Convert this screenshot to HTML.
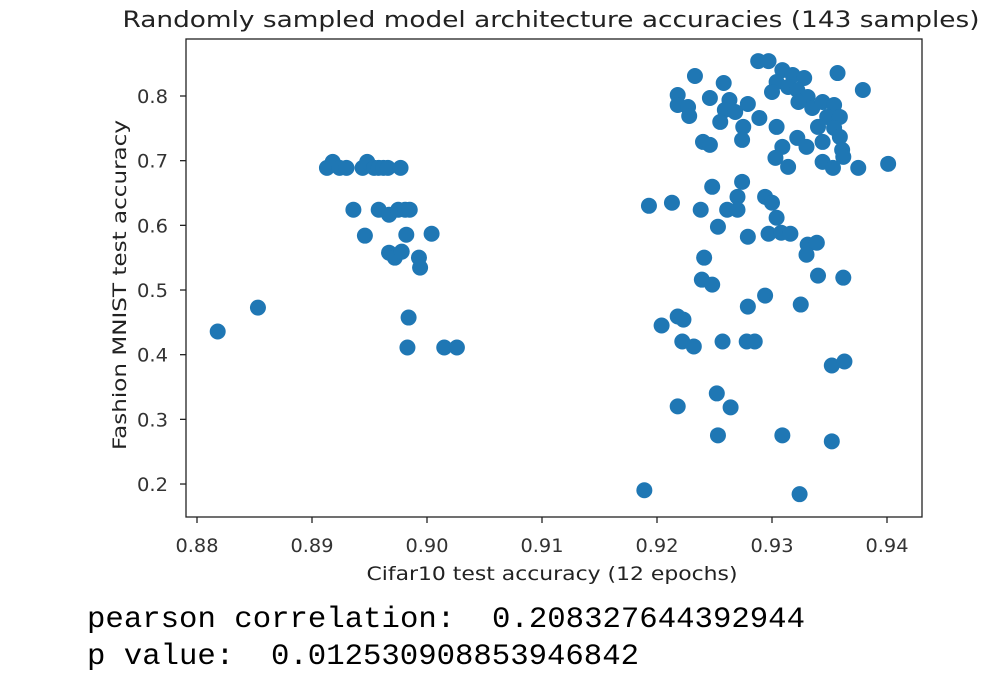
<!DOCTYPE html>
<html><head><meta charset="utf-8"><style>
body{margin:0;background:#fff;width:984px;height:684px;overflow:hidden}
</style></head><body>
<svg id="chart" width="984" height="684" style="position:absolute;left:0;top:0" font-family="'DejaVu Sans','Liberation Sans',sans-serif"></svg>
<script>
const xs=[.8818,.8853,.8913,.8918,.8924,.8930,.8944,.8948,.8954,.8958,.8962,.8966,.8977,.8936,.8958,.8967,.8975,.8981,.8985,.8946,.8982,.9004,.8967,.8972,.8978,.8993,.8994,.8984,.8983,.9015,.9026,
.9288,.9297,.9233,.9357,.9258,.9309,.9318,.9328,.9304,.9300,.9314,.9322,.9218,.9379,.9246,.9218,.9227,.9263,.9279,.9259,.9268,.9228,.9331,.9335,.9344,.9354,.9348,.9359,.9323,.9255,.9275,.9289,.9304,.9340,.9354,.9359,.9240,.9246,.9274,.9309,.9322,.9330,.9344,.9361,.9362,.9303,.9314,.9344,.9353,.9375,.9401,.9248,.9274,
.9193,.9213,.9238,.9270,.9261,.9270,.9294,.9300,.9304,.9253,.9279,.9297,.9308,.9316,.9331,.9339,.9330,.9241,.9239,.9248,.9340,.9362,.9294,.9279,.9325,.9218,.9223,.9204,.9222,.9232,.9257,.9278,.9285,.9352,.9363,.9218,.9264,.9252,.9253,.9309,.9352,.9189,.9324];
const ys=[.4358,.4728,.6889,.6981,.6889,.6889,.6889,.6981,.6889,.6889,.6889,.6889,.6889,.6241,.6241,.6164,.6241,.6241,.6241,.5840,.5855,.5870,.5577,.5500,.5593,.5500,.5346,.4574,.4111,.4111,.4111,
.8540,.8540,.8309,.8355,.8201,.8401,.8324,.8278,.8216,.8062,.8139,.8093,.8015,.8093,.7969,.7861,.7830,.7938,.7877,.7784,.7753,.7691,.7985,.7815,.7907,.7861,.7676,.7676,.7907,.7599,.7522,.7660,.7522,.7522,.7506,.7367,.7290,.7244,.7321,.7213,.7352,.7213,.7290,.7167,.7059,.7043,.6904,.6981,.6889,.6889,.6951,.6596,.6673,
.6302,.6349,.6241,.6441,.6241,.6241,.6441,.6349,.6117,.5978,.5824,.5870,.5886,.5870,.5701,.5731,.5546,.5500,.5160,.5083,.5222,.5191,.4914,.4744,.4775,.4590,.4543,.4451,.4204,.4127,.4204,.4204,.4204,.3833,.3895,.3201,.3185,.3401,.2753,.2753,.2660,.1904,.1843];
const xTicks=[0.88,0.89,0.90,0.91,0.92,0.93,0.94];
const yTicks=[0.2,0.3,0.4,0.5,0.6,0.7,0.8];
const L=186,R=922,T=39,B=517;
const sx=v=>197+(v-0.88)*11500;
const sy=v=>96-(v-0.8)*646.7;
const svg=document.getElementById('chart');
const NS='http://www.w3.org/2000/svg';
function mk(tag,attrs,parent){const e=document.createElementNS(NS,tag);for(const k in attrs)e.setAttribute(k,attrs[k]);(parent||svg).appendChild(e);return e;}
const pts=mk('g',{});


for(let i=0;i<xs.length;i++){
  const c=mk('circle',{cx:sx(xs[i]),cy:sy(ys[i]),r:8,fill:'#1f77b4'},pts);
  
  
}
const frame=mk('rect',{x:L,y:T,width:R-L,height:B-T,fill:'none',stroke:'#222','stroke-width':1.3});


xTicks.forEach(t=>{
  const x=sx(t);
  const tk=mk('line',{x1:x,x2:x,y1:B,y2:B+6,stroke:'#222','stroke-width':1.3});
  
  
  const tx=mk('text',{x:x,y:552,'text-anchor':'middle','font-size':19,fill:'#333',textLength:43,lengthAdjust:'spacingAndGlyphs'});
  tx.textContent=t.toFixed(2);
  
  
});
yTicks.forEach(t=>{
  const y=sy(t);
  const tk=mk('line',{x1:L-6,x2:L,y1:y,y2:y,stroke:'#222','stroke-width':1.3});
  
  
  const tx=mk('text',{x:168,y:y+7,'text-anchor':'end','font-size':19,fill:'#333',textLength:31,lengthAdjust:'spacingAndGlyphs'});
  tx.textContent=t.toFixed(1);
  
  
});
const title=mk('text',{x:551,y:27,'text-anchor':'middle','font-size':22,fill:'#222',textLength:857,lengthAdjust:'spacingAndGlyphs'});
title.textContent='Randomly sampled model architecture accuracies (143 samples)';


const xl=mk('text',{x:552,y:580,'text-anchor':'middle','font-size':19,fill:'#222',textLength:371,lengthAdjust:'spacingAndGlyphs'});
xl.textContent='Cifar10 test accuracy (12 epochs)';


const yl=mk('text',{x:0,y:0,'text-anchor':'middle','font-size':19,fill:'#222',textLength:330,lengthAdjust:'spacingAndGlyphs',transform:'translate(126,285) rotate(-90)'});
yl.textContent='Fashion MNIST test accuracy';


const p1=mk('text',{x:87,y:627,'font-size':30,'font-family':"'Liberation Mono',monospace",fill:'#000','xml:space':'preserve',textLength:718,lengthAdjust:'spacingAndGlyphs'});
p1.textContent='pearson correlation:  0.208327644392944';


p1.style.whiteSpace='pre';
const p2=mk('text',{x:87,y:664,'font-size':30,'font-family':"'Liberation Mono',monospace",fill:'#000',textLength:552,lengthAdjust:'spacingAndGlyphs'});
p2.textContent='p value:  0.012530908853946842';


p2.style.whiteSpace='pre';
</script>
</body></html>
